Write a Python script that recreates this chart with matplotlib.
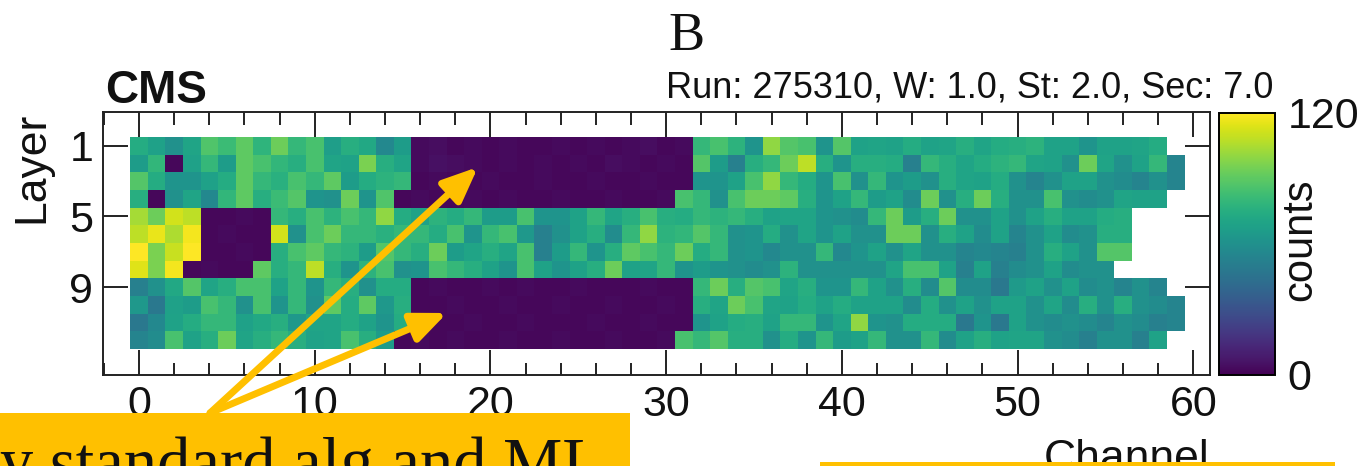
import numpy as np
import matplotlib
matplotlib.use("Agg")
import matplotlib.pyplot as plt
from matplotlib.patches import Rectangle, FancyArrowPatch
from matplotlib.ticker import MultipleLocator, NullLocator

plt.rcParams['font.family'] = ['Liberation Sans', 'DejaVu Sans']

# ---- data: counts per layer (rows) and channel (columns 0..59); None = no cell
channels = list(range(60))
layers = list(range(1, 13))
N = None
layer1 = [74,68,60,70,87,82,90,78,93,80,85,67,75,72,56,66, 3,4,2,3,2,3,2,2,3,2,3,2,3,4,2,3,
          80,85,77,62,100,88,85,62,88,69,70,69,74,69,70,75,70,74, 75,77,69,69,62,69,69,70,74, N]
layer2 = [66,79,2,68,80,66,90,85,79,75,85,70,69,96,75,70, 3,5,4,3,2,3,2,3,2,3,2,4,3,2,3,2,
          88,66,52,75,80,93,108,75,62,75,75,74,52,80,75,70,74,77, 80,70,69,60,93,70,60,69,80,54]
layer3 = [88,74,62,62,68,74,90,80,76,85,80,90,66,74,77,80, 2,3,2,2,3,2,2,3,2,2,3,2,2,3,2,2,
          62,62,69,85,100,80,74,62,85,60,80,62,66,60,75,70,69,74, 60,54,60,69,69,60,58,54,60,54]
layer4 = [75,2,60,70,56,79,90,75,82,88,62,60,93,62,87, 2,3,2,2,3,2,3,2,2,3,2,2,3,2,2,3, 85,
          80,60,85,93,93,90,75,62,69,80,66,69,58,93,60,75,93,75, 60,60,85,60,58,60,70,69,69, N]
layer5 = [104,93,112,108, 2,2,3,2, 80,75,85,77,85,80,100,74,
          69,77,74,80,66,66,85,62,62,69,80,70,75,85,75,74,80,
          77,80,75,69,70,70,62,60,58,80,93,66,75,93,60,60,69, 60,69,75,69,69,74,75, N,N,N]
layer6 = [108,116,105,118, 2,3,2,2, 112,60,85,93,80,80,76,80,
          80,74,85,62,80,85,64,52,60,69,75,58,80,100,77,79,88,
          80,60,62,74,60,70,62,69,60,60,93,93,60,75,69,58,69, 54,60,69,58,60,75,75, N,N,N]
layer7 = [120,96,110,120, 2,2,3,2, 75,85,90,80,77,66,88,80,
          75,93,66,70,75,70,85,52,66,80,62,75,90,85,80,93,74,
          80,60,62,56,60,60,80,56,62,69,60,70,60,60,54,56,54, 52,60,75,69,60,88,88, N,N,N]
layer8 = [114,96,118, 2,3,2,2, 90,75,80,108,75,62,77,85,60,
          62,85,80,75,69,62,85,69,62,69,75,93,69,70,80,62,66,
          62,60,58,60,77,60,60,60,60,60,70,85,85,69,52,69,52, 58,60,69,58,60,60, N,N,N,N]
layer9 = [52,60,72,88,70,75,85,85,69,80,62,80,75,60,74,74, 2,3,2,2,3,2,3,2,2,3,2,2,2,3,2,2,
          80,93,75,88,85,70,75,62,62,80,69,60,75,58,88,58,58,48, 65,69,60,69,58,60,54,60,54, N]
layer10 = [64,48,68,66,85,80,60,85,62,80,60,90,74,90,64,75, 2,2,3,2,2,3,2,2,3,2,2,3,2,2,3,2,
           75,70,93,85,70,69,74,69,74,69,69,69,58,74,60,69,60,69, 69,60,70,58,75,60,75,60,58,54]
layer11 = [48,56,69,74,80,80,68,72,75,64,70,70,74,69,62,74, 3,2,2,3,2,2,3,2,2,2,3,2,2,3,2,2,
           62,69,74,75,69,80,80,62,70,100,62,60,74,74,74,48,62,48, 69,60,58,60,58,54,60,58,52,54]
layer12 = [54,58,85,69,75,93,70,75,80,75,69,70,85,75,66, 2,3,2,3,2,2,3,2,2,3,2,2,3,2,2,3, 85,
           80,88,75,75,60,74,62,80,66,69,80,60,60,80,58,69,75,69, 70,70,60,58,52,60,60,52,69, N]

x_ticks = [0, 10, 20, 30, 40, 50, 60]
y_ticks = [1, 5, 9]
cbar_ticks = [0, 120]
title_text = "B"
cms_text = "CMS"
run_text = "Run: 275310, W: 1.0, St: 2.0, Sec: 7.0"
note_text = "y standard alg and ML"

rows = [layer1, layer2, layer3, layer4, layer5, layer6,
        layer7, layer8, layer9, layer10, layer11, layer12]
Z = np.ma.masked_invalid(np.array(rows, dtype=float))

W, H = 1366, 466
fig = plt.figure(figsize=(W / 100, H / 100), dpi=100)
TXT = '#111111'
GOLD = '#FFC000'

ax = fig.add_axes([103 / W, 91 / H, 1107 / W, 263 / H])
cax = fig.add_axes([1219 / W, 91 / H, 56 / W, 262 / H])

xe = np.array(channels + [channels[-1] + 1]) - 0.5
ye = np.array(layers + [layers[-1] + 1]) - 0.5
mesh = ax.pcolormesh(xe, ye, Z, cmap='viridis', vmin=0, vmax=120)
ax.set_xlim(-2.05, 60.95)
ax.set_ylim(13.97, -0.91)
ax.set_xticks(x_ticks)
ax.xaxis.set_minor_locator(MultipleLocator(2))
ax.set_yticks(y_ticks)
ax.yaxis.set_minor_locator(NullLocator())
ax.tick_params(which='both', direction='in', top=True, right=True,
               width=1.4, color='#222222', labelcolor=TXT)
ax.tick_params(which='major', length=18, labelsize=31, pad=7)
ax.tick_params(which='minor', length=9)
for s in ax.spines.values():
    s.set_linewidth(1.4)
    s.set_color('#222222')
ax.set_xlabel('Channel', loc='right', fontsize=32, color=TXT, labelpad=10)
ax.set_ylabel('Layer', loc='top', fontsize=32, color=TXT, labelpad=12)

cb = fig.colorbar(mesh, cax=cax, ticks=cbar_ticks)
cb.outline.set_linewidth(1.4)
cax.tick_params(length=0, labelsize=31, pad=9, labelcolor=TXT)
fig.text(1300 / W, (H - 240) / H, 'counts', rotation=90, ha='center', va='center',
         fontsize=30, color=TXT)

fig.text(686 / W, (H - 50) / H, title_text, ha='center', va='baseline',
         fontsize=39, family=['Liberation Serif', 'DejaVu Serif'], color=TXT)
fig.text(105 / W, (H - 103) / H, cms_text, ha='left', va='baseline',
         fontsize=33, fontweight='bold', color=TXT)
fig.text(1273 / W, (H - 97) / H, run_text, ha='right', va='baseline',
         fontsize=26, color=TXT)

# annotation overlay
fig.add_artist(Rectangle((0, 0), 630 / W, 53 / H, transform=fig.transFigure,
                         facecolor=GOLD, edgecolor='none', zorder=5))
fig.add_artist(Rectangle((820 / W, 0), 515 / W, 4 / H, transform=fig.transFigure,
                         facecolor=GOLD, edgecolor='none', zorder=5))
fig.text(0, (H - 484) / H, note_text, ha='left', va='baseline', fontsize=48,
         family=['Liberation Serif', 'DejaVu Serif'], color=TXT, zorder=6)
for tip in [(478, 167), (447, 313)]:
    arr = FancyArrowPatch(posA=(210 / W, 53 / H), posB=(tip[0] / W, (H - tip[1]) / H),
                          transform=fig.transFigure,
                          arrowstyle='-|>,head_length=1.05,head_width=0.45',
                          mutation_scale=20, color=GOLD, linewidth=5,
                          shrinkA=0, shrinkB=0, zorder=6)
    fig.add_artist(arr)

fig.savefig('out.png', dpi=100)
